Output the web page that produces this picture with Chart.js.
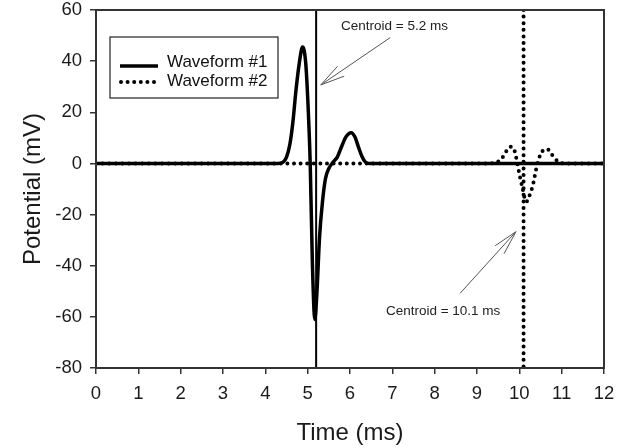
<!DOCTYPE html>
<html>
<head>
<meta charset="utf-8">
<script src="https://cdn.jsdelivr.net/npm/chart.js@4.4.1/dist/chart.umd.min.js"></script>
<style>
  html, body { margin: 0; padding: 0; background: #fff; }
  #wrap { width: 631px; height: 448px; }
</style>
</head>
<body>
<div id="wrap"><canvas id="myChart" width="631" height="448"></canvas></div>
<script>
// waveform #1 (solid)
const timeMs1 = [0, 4.3, 4.42, 4.5, 4.58, 4.65, 4.72, 4.8, 4.88, 4.95, 5.0, 5.06, 5.11, 5.17, 5.22, 5.28, 5.35, 5.42, 5.5, 5.6, 5.7, 5.8, 5.9, 6.03, 6.12, 6.2, 6.28, 6.36, 6.45, 12];
const potential1 = [0, 0, 0.5, 2.5, 7.5, 16, 28, 39, 45.5, 40, 26, 0, -38, -61, -50, -29, -15, -6, -2, 0.5, 2.5, 6.5, 10.3, 12, 10.2, 6.4, 2.8, 0.6, 0, 0];

// waveform #2 (dotted)
const timeMs2 = [0, 9.3, 9.45, 9.58, 9.68, 9.78, 9.86, 9.93, 10.0, 10.08, 10.16, 10.24, 10.32, 10.4, 10.5, 10.58, 10.66, 10.76, 10.9, 11.05, 12];
const potential2 = [0, 0, 0.4, 1.8, 4.5, 6.5, 6, 2, -4, -10, -15, -12.5, -8.5, -2, 3.6, 5.3, 5.6, 3.6, 0.9, 0, 0];

const centroids = [5.2, 10.1];
const seriesNames = ['Waveform #1', 'Waveform #2'];
const xTicks = [0, 1, 2, 3, 4, 5, 6, 7, 8, 9, 10, 11, 12];
const yTicks = [-80, -60, -40, -20, 0, 20, 40, 60];

const pts = (xs, ys) => xs.map((x, i) => ({x: x, y: ys[i]}));
const vline = x => [{x: x, y: yTicks[yTicks.length - 1]}, {x: x, y: yTicks[0]}];

const FONT = "'Liberation Sans', Arial, sans-serif";
const dotted = {borderDash: [0, 6.6], borderCapStyle: 'round', borderWidth: 4};

// labels + arrows, positions in data units
const notes = [
  {text: 'Centroid = 5.2 ms', tx: 7.05, ty: 53.5, from: [6.95, 49.2], to: [5.31, 30.7]},
  {text: 'Centroid = 10.1 ms', tx: 8.2, ty: -58, from: [8.6, -50.8], to: [9.92, -26.7]}
];

const extras = {
  id: 'extras',
  afterDatasetsDraw(chart) {
    const c = chart.ctx, a = chart.chartArea;
    const xs = chart.scales.x, ys = chart.scales.y;
    c.save();
    // frame
    c.strokeStyle = '#333';
    c.lineWidth = 2;
    c.strokeRect(a.left, a.top, a.right - a.left, a.bottom - a.top);

    // arrows
    c.strokeStyle = '#555';
    c.lineWidth = 1;
    c.fillStyle = '#222';
    c.font = '13.5px ' + FONT;
    c.textAlign = 'center';
    c.textBaseline = 'middle';
    notes.forEach(n => {
      const x0 = xs.getPixelForValue(n.from[0]), y0 = ys.getPixelForValue(n.from[1]);
      const x1 = xs.getPixelForValue(n.to[0]), y1 = ys.getPixelForValue(n.to[1]);
      c.beginPath();
      c.moveTo(x0, y0);
      c.lineTo(x1, y1);
      const ang = Math.atan2(y0 - y1, x0 - x1);
      [-0.24, 0.24].forEach(d => {
        c.moveTo(x1, y1);
        c.lineTo(x1 + 25 * Math.cos(ang + d), y1 + 25 * Math.sin(ang + d));
      });
      c.stroke();
      c.fillText(n.text, xs.getPixelForValue(n.tx), ys.getPixelForValue(n.ty));
    });

    // legend box
    const lx = a.left + 14, ly = a.top + 27;
    c.fillStyle = '#fff';
    c.fillRect(lx, ly, 168, 61);
    c.strokeStyle = '#222';
    c.lineWidth = 1.2;
    c.strokeRect(lx, ly, 168, 61);
    c.strokeStyle = '#000';
    c.beginPath();
    c.lineWidth = 3.5;
    c.moveTo(lx + 10, ly + 29);
    c.lineTo(lx + 48, ly + 29);
    c.stroke();
    c.beginPath();
    c.lineWidth = dotted.borderWidth;
    c.lineCap = 'round';
    c.setLineDash(dotted.borderDash);
    c.moveTo(lx + 11, ly + 45);
    c.lineTo(lx + 48, ly + 45);
    c.stroke();
    c.setLineDash([]);
    c.fillStyle = '#111';
    c.font = '17px ' + FONT;
    c.textAlign = 'left';
    c.fillText(seriesNames[0], lx + 57, ly + 25);
    c.fillText(seriesNames[1], lx + 57, ly + 44);
    c.restore();
  }
};

new Chart(document.querySelector('#myChart'), {
  type: 'line',
  data: {
    datasets: [
      {
        label: seriesNames[0],
        data: pts(timeMs1, potential1),
        borderColor: '#000',
        borderWidth: 3.5,
        pointRadius: 0,
        cubicInterpolationMode: 'monotone',
        fill: false
      },
      {
        label: 'centroid 1',
        data: vline(centroids[0]),
        borderColor: '#000',
        borderWidth: 2,
        pointRadius: 0
      },
      {
        label: seriesNames[1],
        data: pts(timeMs2, potential2),
        borderColor: '#000',
        pointRadius: 0,
        cubicInterpolationMode: 'monotone',
        fill: false,
        ...dotted
      },
      {
        label: 'centroid 2',
        data: vline(centroids[1]),
        borderColor: '#000',
        pointRadius: 0,
        ...dotted
      }
    ]
  },
  options: {
    responsive: false,
    animation: false,
    layout: {padding: {top: 10, right: 27, left: 0, bottom: 0}},
    plugins: {legend: {display: false}, tooltip: {enabled: false}},
    scales: {
      x: {
        type: 'linear',
        min: xTicks[0],
        max: xTicks[xTicks.length - 1],
        afterBuildTicks: s => { s.ticks = xTicks.map(v => ({value: v})); },
        afterFit: s => { s.height = 80; },
        border: {display: false},
        grid: {drawOnChartArea: false, drawTicks: true, tickLength: 6, color: '#333', lineWidth: 1.5},
        ticks: {color: '#1a1a1a', padding: 9, maxRotation: 0, font: {family: FONT, size: 18.5}},
        title: {display: true, text: 'Time (ms)', color: '#1a1a1a', padding: {top: 0, bottom: 0}, font: {family: FONT, size: 24}}
      },
      y: {
        min: yTicks[0],
        max: yTicks[yTicks.length - 1],
        afterBuildTicks: s => { s.ticks = yTicks.map(v => ({value: v})); },
        afterFit: s => { s.width = 96; s.paddingTop = 0; s.paddingBottom = 0; },
        border: {display: false},
        grid: {drawOnChartArea: false, drawTicks: true, tickLength: 6, color: '#333', lineWidth: 1.5},
        ticks: {color: '#1a1a1a', padding: 8, font: {family: FONT, size: 18.5}},
        title: {display: true, text: 'Potential (mV)', color: '#1a1a1a', padding: {top: 19, bottom: 0}, font: {family: FONT, size: 24}}
      }
    }
  },
  plugins: [extras]
});
</script>
</body>
</html>
